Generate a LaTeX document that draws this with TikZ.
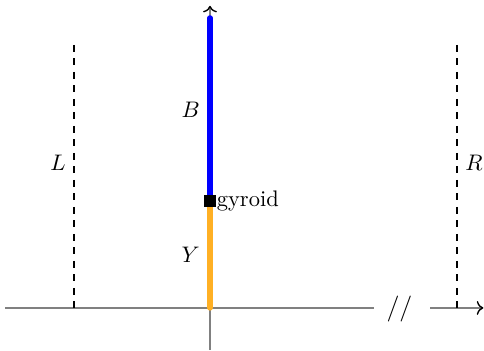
\documentclass[tikz,border=0pt]{standalone}
\usetikzlibrary{arrows.meta}
\definecolor{amber}{RGB}{255,176,36}
\begin{document}
\begin{tikzpicture}[axis/.style = {draw = gray, line width = 0.6pt},
  wall/.style = {dashed, line width = 0.6pt},
  rod/.style = {line width = 2.4pt, line cap = round}]
\useasboundingbox (-3.28,-0.66) rectangle (4.28,4.81);
% axes
\coordinate (left) at (-3.2,0);
\coordinate (gap) at (2.56,0);
\coordinate (restart) at (3.44,0);
\coordinate (right) at (4.27,0);
\coordinate (bottom) at (0,-0.66);
\coordinate (top) at (0,4.72);
\draw[axis] (left) -- (gap);
\draw[axis, -{To[black]}] (restart) -- (right);
\node[scale = 1.15] (break) at (2.96,-0.02) {$//$};
% walls
\draw[wall] (-2.125,4.11) -- (-2.125,0) node [pos = 0.45, left] (L) {$L$};
\draw[wall] (3.86,4.11) -- (3.86,0) node [pos = 0.45, right] (R) {$R$};
% rods
\coordinate (base) at (0,0);
\coordinate (tip) at (0,4.53);
\draw[axis, -{To[black]}] (bottom) -- (top);
\draw[rod, blue] (0,1.67) -- (tip) node [pos = 0.5, left, text = black] (B) {$B$};
\draw[rod, amber] (base) -- (0,1.67) node [pos = 0.5, left, text = black] (Y) {$Y$};
\filldraw[black] (-0.08,1.59) rectangle (0.08,1.75);
\node[anchor = west, inner sep = 0pt] (gyroid) at (0.1,1.67) {gyroid};
\end{tikzpicture}
\end{document}
